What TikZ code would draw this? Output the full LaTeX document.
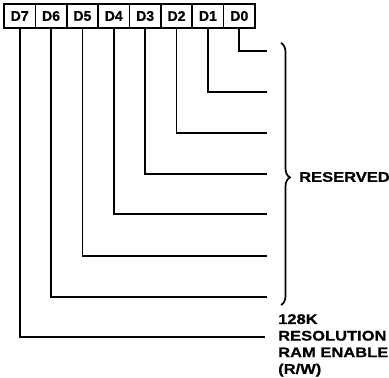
\documentclass[tikz,border=0pt]{standalone}
\usepackage{fontspec}
\setmainfont{Liberation Sans}
\newfontfamily\bitfont{Liberation Sans}[FakeBold=0.8]
\newfontfamily\widefont{Liberation Sans}[FakeStretch=1.18,FakeBold=0.8]
\usetikzlibrary{decorations.pathreplacing}
\begin{document}
\begin{tikzpicture}[x=1pt,y=-1pt,
  bitbox/.style={draw,line width=1.7pt,minimum width=31.4pt,minimum height=24pt,inner sep=0pt,
    font=\fontsize{14}{16}\selectfont\bitfont\bfseries},
  wire/.style={line width=1.7pt},
  lab/.style={inner sep=0pt,font=\fontsize{14}{16.6}\selectfont\widefont\bfseries,align=left}]
\useasboundingbox (0,0) rectangle (389,378);
\foreach \i/\t in {7/D7,6/D6,5/D5,4/D4,3/D3,2/D2,1/D1,0/D0}{
  \node[bitbox] (b\i) at ({4+31.375*(7-\i)+15.69},16) {\t};
}
\foreach \i/\y in {0/51,1/92,2/133,3/174,4/214,5/256,6/297}{
  \coordinate (e\i) at (267,\y);
}
\coordinate (e7) at (265,337);
\foreach \i in {0,...,7}{
  \draw[wire] (b\i.south) |- (e\i);
}
\coordinate (brtop) at (281,43);
\coordinate (brbot) at (281,305);
\draw[line width=1.7pt,decorate,decoration={brace,amplitude=9pt,aspect=0.513}] (brtop) -- (brbot);
\node[lab,anchor=west] (res) at (299,177) {RESERVED};
\node[lab,anchor=north west] (ram) at (278,314) {128K\\RESOLUTION\\RAM ENABLE\\(R/W)};
\end{tikzpicture}
\end{document}
